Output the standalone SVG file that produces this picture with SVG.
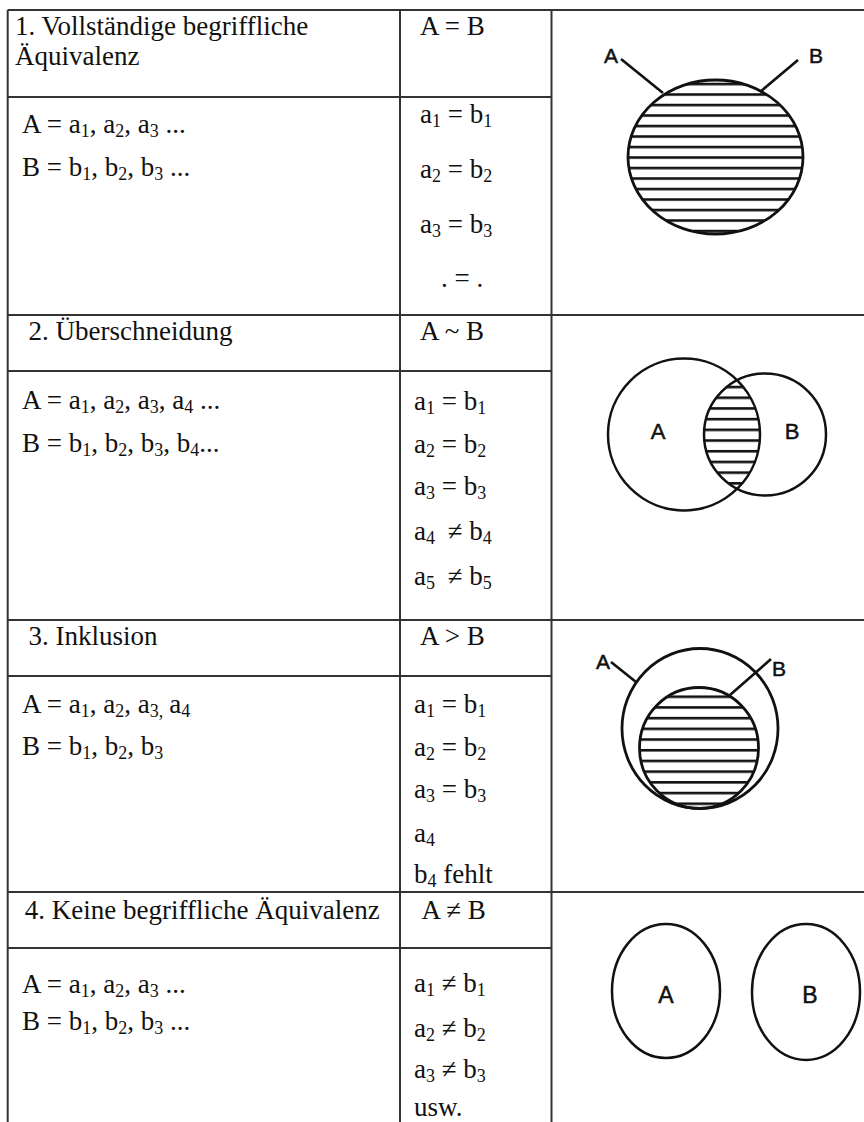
<svg xmlns="http://www.w3.org/2000/svg" width="864" height="1122" viewBox="0 0 864 1122">
<style>
.t{font-family:"Liberation Serif","Times New Roman",serif;font-size:27px;fill:#111}
.s{font-size:18px;baseline-shift:-4px}
.g{stroke:#333;stroke-width:2;fill:none}
.c{stroke:#111;stroke-width:2.8;fill:none}
.lab{font-family:"Liberation Sans",Arial,sans-serif;fill:#111;stroke:#111;stroke-width:0.5;text-anchor:middle}
.ld{stroke:#111;stroke-width:2.6;fill:none}
</style>
<defs>
<pattern id="h1" patternUnits="userSpaceOnUse" x="0" y="82.75" width="40" height="10.5"><rect x="0" y="0" width="40" height="2.6" fill="#111"/></pattern>
<pattern id="h2" patternUnits="userSpaceOnUse" x="0" y="385.75" width="40" height="10.7"><rect x="0" y="0" width="40" height="2.6" fill="#111"/></pattern>
<pattern id="h3" patternUnits="userSpaceOnUse" x="0" y="695.45" width="40" height="10.7"><rect x="0" y="0" width="40" height="2.6" fill="#111"/></pattern>
</defs>
<rect width="864" height="1122" fill="#fff"/>

<g id="grid">
<line class="g" x1="7.7" y1="10" x2="864" y2="10"/>
<line class="g" x1="7.7" y1="10" x2="7.7" y2="1122"/>
<line class="g" x1="400" y1="10" x2="400" y2="1122"/>
<line class="g" x1="551.5" y1="10" x2="551.5" y2="1122"/>
<line class="g" x1="7.7" y1="97" x2="551.5" y2="97"/>
<line class="g" x1="7.7" y1="315" x2="864" y2="315"/>
<line class="g" x1="7.7" y1="371" x2="551.5" y2="371"/>
<line class="g" x1="7.7" y1="620" x2="864" y2="620"/>
<line class="g" x1="7.7" y1="676" x2="551.5" y2="676"/>
<line class="g" x1="7.7" y1="892" x2="864" y2="892"/>
<line class="g" x1="7.7" y1="948" x2="551.5" y2="948"/>
</g>

<g id="row1">
<text class="t" x="15" y="35">1. Vollständige begriffliche</text>
<text class="t" x="15" y="65">Äquivalenz</text>
<text class="t" x="420" y="35">A = B</text>
<text class="t" x="22" y="133">A = a<tspan class="s">1</tspan>, a<tspan class="s">2</tspan>, a<tspan class="s">3</tspan> ...</text>
<text class="t" x="22" y="176">B = b<tspan class="s">1</tspan>, b<tspan class="s">2</tspan>, b<tspan class="s">3</tspan> ...</text>
<text class="t" x="420" y="123">a<tspan class="s">1</tspan> = b<tspan class="s">1</tspan></text>
<text class="t" x="420" y="178">a<tspan class="s">2</tspan> = b<tspan class="s">2</tspan></text>
<text class="t" x="420" y="233">a<tspan class="s">3</tspan> = b<tspan class="s">3</tspan></text>
<text class="t" x="441" y="287">. = .</text>
</g>

<g id="row2">
<text class="t" x="28.6" y="340">2. Überschneidung</text>
<text class="t" x="420" y="340">A ~ B</text>
<text class="t" x="22" y="409">A = a<tspan class="s">1</tspan>, a<tspan class="s">2</tspan>, a<tspan class="s">3</tspan>, a<tspan class="s">4</tspan> ...</text>
<text class="t" x="22" y="452">B = b<tspan class="s">1</tspan>, b<tspan class="s">2</tspan>, b<tspan class="s">3</tspan>, b<tspan class="s">4</tspan>...</text>
<text class="t" x="414" y="410">a<tspan class="s">1</tspan> = b<tspan class="s">1</tspan></text>
<text class="t" x="414" y="453">a<tspan class="s">2</tspan> = b<tspan class="s">2</tspan></text>
<text class="t" x="414" y="495">a<tspan class="s">3</tspan> = b<tspan class="s">3</tspan></text>
<text class="t" x="414" y="540">a<tspan class="s">4</tspan><tspan dx="6"> ≠ b</tspan><tspan class="s">4</tspan></text>
<text class="t" x="414" y="585">a<tspan class="s">5</tspan><tspan dx="6"> ≠ b</tspan><tspan class="s">5</tspan></text>
</g>

<g id="row3">
<text class="t" x="28.6" y="645">3. Inklusion</text>
<text class="t" x="420" y="645">A &gt; B</text>
<text class="t" x="22" y="713">A = a<tspan class="s">1</tspan>, a<tspan class="s">2</tspan>, a<tspan class="s">3,</tspan><tspan dx="6">a</tspan><tspan class="s">4</tspan></text>
<text class="t" x="22" y="755">B = b<tspan class="s">1</tspan>, b<tspan class="s">2</tspan>, b<tspan class="s">3</tspan></text>
<text class="t" x="414" y="713">a<tspan class="s">1</tspan> = b<tspan class="s">1</tspan></text>
<text class="t" x="414" y="756">a<tspan class="s">2</tspan> = b<tspan class="s">2</tspan></text>
<text class="t" x="414" y="798">a<tspan class="s">3</tspan> = b<tspan class="s">3</tspan></text>
<text class="t" x="414" y="842">a<tspan class="s">4</tspan></text>
<text class="t" x="414" y="883">b<tspan class="s">4</tspan> fehlt</text>
</g>

<g id="row4">
<text class="t" x="24.8" y="919">4. Keine begriffliche Äquivalenz</text>
<text class="t" x="421.5" y="919">A ≠ B</text>
<text class="t" x="22" y="993">A = a<tspan class="s">1</tspan>, a<tspan class="s">2</tspan>, a<tspan class="s">3</tspan> ...</text>
<text class="t" x="22" y="1030">B = b<tspan class="s">1</tspan>, b<tspan class="s">2</tspan>, b<tspan class="s">3</tspan> ...</text>
<text class="t" x="414" y="992">a<tspan class="s">1</tspan> ≠ b<tspan class="s">1</tspan></text>
<text class="t" x="414" y="1037">a<tspan class="s">2</tspan> ≠ b<tspan class="s">2</tspan></text>
<text class="t" x="414" y="1078">a<tspan class="s">3</tspan> ≠ b<tspan class="s">3</tspan></text>
<text class="t" x="414" y="1116">usw.</text>
</g>

<g id="diagram1">
<ellipse cx="715.5" cy="157" rx="87.5" ry="77" class="c" style="fill:url(#h1)"/>
<text class="lab" x="611" y="63" font-size="21">A</text>
<text class="lab" x="816" y="63" font-size="21">B</text>
</g>

<g id="diagram2">
<path d="M737.2 380.2 A61 61 0 0 0 737.2 488.8 A76 76 0 0 0 737.2 380.2 Z" fill="url(#h2)"/>
<circle class="c" cx="684" cy="434.5" r="76" style="stroke-width:2.5"/>
<circle class="c" cx="765" cy="434.5" r="61" style="stroke-width:2.5"/>
<text class="lab" x="658" y="439" font-size="22">A</text>
<text class="lab" x="792" y="439" font-size="22">B</text>
</g>

<g id="diagram3">
<ellipse class="c" cx="700" cy="728.5" rx="78" ry="80"/>
<ellipse cx="699" cy="748" rx="59.5" ry="60.5" class="c" style="fill:url(#h3)"/>
<text class="lab" x="603" y="669" font-size="21">A</text>
<text class="lab" x="779" y="676" font-size="21">B</text>
</g>

<g id="diagram4">
<ellipse class="c" cx="666" cy="991" rx="54" ry="67" style="stroke-width:2.5"/>
<ellipse class="c" cx="806" cy="992" rx="54" ry="68" style="stroke-width:2.5"/>
<text class="lab" x="666" y="1003" font-size="23">A</text>
<text class="lab" x="810" y="1003" font-size="23">B</text>
</g>

<g id="leaders">
<line class="ld" x1="621" y1="59" x2="663" y2="93"/>
<line class="ld" x1="798" y1="60" x2="760" y2="92"/>
<line class="ld" x1="611" y1="662" x2="636" y2="682"/>
<line class="ld" x1="771" y1="659" x2="730" y2="695"/>
</g>
</svg>
